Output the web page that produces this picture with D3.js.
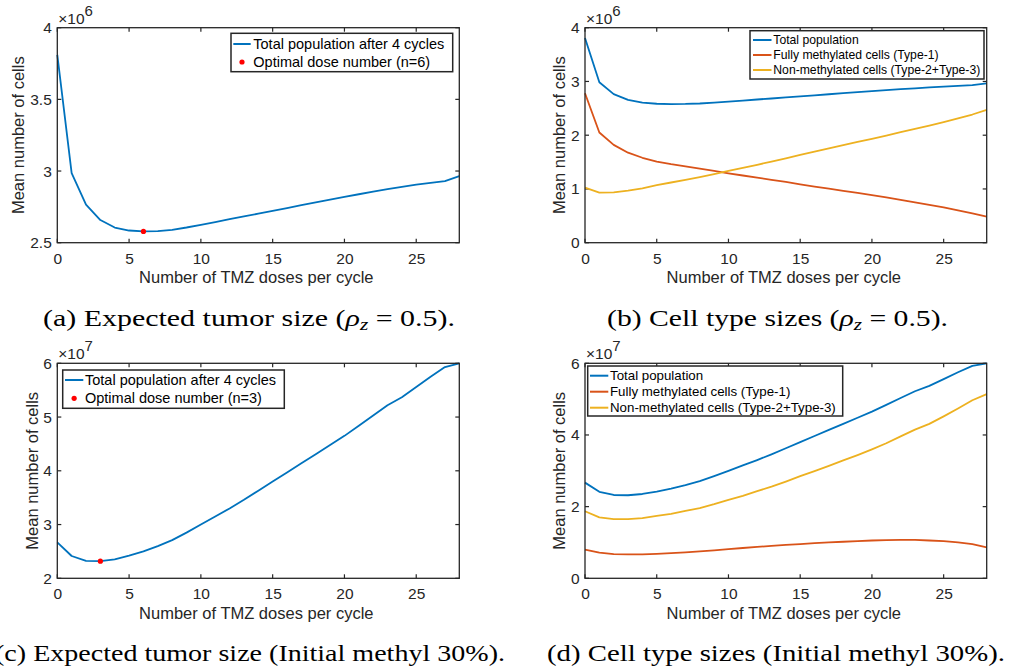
<!DOCTYPE html>
<html><head><meta charset="utf-8">
<script src="https://cdn.jsdelivr.net/npm/d3@7"></script>
<style>body{margin:0;background:#fff}svg{display:block}</style>
</head><body><svg id="c" width="1009" height="671"></svg>
<script>
// ---------- data ----------
const doses = [0,1,2,3,4,5,6,7,8,9,10,11,12,13,14,15,16,17,18,19,20,21,22,23,24,25,26,27,28];
const xTicks = [0,5,10,15,20,25];

// rho_z = 0.5  (x 10^6)
const totalRho   = [3.81,2.985,2.765,2.658,2.606,2.585,2.579,2.581,2.590,2.606,2.625,2.644,2.664,2.683,2.703,2.722,2.742,2.762,2.782,2.801,2.820,2.838,2.856,2.873,2.889,2.905,2.918,2.930,2.965];
const type1Rho   = [2.78,2.05,1.82,1.675,1.58,1.507,1.46,1.42,1.38,1.335,1.29,1.25,1.21,1.17,1.13,1.085,1.045,1.005,0.965,0.926,0.887,0.842,0.797,0.75,0.703,0.657,0.60,0.545,0.484];
const nonMethRho = [1.025,0.932,0.937,0.967,1.012,1.070,1.120,1.170,1.220,1.275,1.335,1.392,1.450,1.510,1.570,1.635,1.695,1.755,1.815,1.875,1.933,1.994,2.055,2.118,2.180,2.245,2.315,2.385,2.47];

// initial methyl 30%  (x 10^7)
const totalMeth   = [2.67,2.415,2.325,2.318,2.353,2.42,2.50,2.60,2.71,2.85,3.00,3.15,3.30,3.46,3.63,3.80,3.97,4.14,4.31,4.48,4.65,4.84,5.03,5.22,5.37,5.56,5.75,5.93,6.00];
const type1Meth   = [0.80,0.715,0.675,0.665,0.668,0.68,0.70,0.725,0.75,0.78,0.815,0.845,0.875,0.905,0.93,0.955,0.98,1.0,1.02,1.04,1.055,1.065,1.07,1.07,1.055,1.035,1.0,0.955,0.865];
const nonMethMeth = [1.87,1.70,1.65,1.65,1.68,1.74,1.80,1.88,1.96,2.07,2.19,2.30,2.43,2.56,2.70,2.85,2.99,3.14,3.29,3.44,3.60,3.77,3.96,4.15,4.31,4.52,4.74,4.97,5.14];

const optimalRho = 6;
const optimalMeth = 3;

const yTicksA = [2.5,3,3.5,4];
const yTicksB = [0,1,2,3,4];
const yTicksC = [2,3,4,5,6];
const yTicksD = [0,2,4,6];

const legendTotalOpt = "Total population after 4 cycles";
const legendOptA = "Optimal dose number (n=6)";
const legendOptC = "Optimal dose number (n=3)";
const legendTypes = ["Total population","Fully methylated cells (Type-1)","Non-methylated cells (Type-2+Type-3)"];

const xLabel = "Number of TMZ doses per cycle";
const yLabel = "Mean number of cells";

// ---------- drawing ----------
const BLUE = "#0072BD", ORANGE = "#D95319", YELLOW = "#EDB120", RED = "#FF0000", AX = "#262626";
const svg = d3.select("#c");
const SANS = "'Liberation Sans', Arial, Helvetica, sans-serif";
const SERIF = "'Liberation Serif', 'Times New Roman', serif";

function panel(o) {
  const g = svg.append("g");
  const x = d3.scaleLinear().domain([0,28]).range([o.left,o.right]);
  const y = d3.scaleLinear().domain(o.yDomain).range([o.bottom,o.top]);
  const T = 4;
  // ticks (inside, all four sides)
  const tickG = g.append("g").attr("stroke",AX).attr("stroke-width",1.2);
  xTicks.forEach(v => {
    tickG.append("line").attr("x1",x(v)).attr("x2",x(v)).attr("y1",o.bottom).attr("y2",o.bottom-T);
    tickG.append("line").attr("x1",x(v)).attr("x2",x(v)).attr("y1",o.top).attr("y2",o.top+T);
  });
  o.yTicks.forEach(v => {
    tickG.append("line").attr("y1",y(v)).attr("y2",y(v)).attr("x1",o.left).attr("x2",o.left+T);
    tickG.append("line").attr("y1",y(v)).attr("y2",y(v)).attr("x1",o.right).attr("x2",o.right-T);
  });
  // axes via d3 (labels only)
  const xa = g.append("g").attr("transform",`translate(0,${o.bottom})`)
    .call(d3.axisBottom(x).tickValues(xTicks).tickSize(0).tickPadding(0).tickFormat(d=>String(d)));
  xa.select(".domain").remove();
  xa.selectAll("text").attr("y",21).attr("dy",null).attr("font-family",SANS).attr("font-size",15.5).attr("fill",AX);
  const ya = g.append("g").attr("transform",`translate(${o.left},0)`)
    .call(d3.axisLeft(y).tickValues(o.yTicks).tickSize(0).tickPadding(5.5).tickFormat(d=>String(d)));
  ya.select(".domain").remove();
  ya.selectAll("text").attr("font-family",SANS).attr("font-size",15.5).attr("fill",AX);

  // lines
  const line = d3.line().x((d,i)=>x(doses[i])).y(d=>y(d));
  o.series.forEach(s => {
    g.append("path").datum(s.values).attr("d",line).attr("fill","none")
      .attr("stroke",s.color).attr("stroke-width",1.8).attr("stroke-linejoin","round");
  });
  if (o.opt !== undefined) {
    g.append("circle").attr("cx",x(doses[o.opt])).attr("cy",y(o.series[0].values[o.opt]))
      .attr("r",2.6).attr("fill",RED);
  }
  // box
  g.append("rect").attr("x",o.left).attr("y",o.top).attr("width",o.right-o.left).attr("height",o.bottom-o.top)
    .attr("fill","none").attr("stroke",AX).attr("stroke-width",1.3);

  // exponent
  const ex = g.append("text").attr("x",o.left+1).attr("y",o.top-4).attr("font-family",SANS)
    .attr("font-size",15.5).attr("fill",AX);
  ex.append("tspan").text("\u00d710");
  ex.append("tspan").attr("dy",-8).attr("font-size",15).text(o.exp);

  // axis labels
  g.append("text").attr("x",(o.left+o.right)/2-2).attr("y",o.bottom+40.5).attr("text-anchor","middle")
    .attr("font-family",SANS).attr("font-size",16.5).attr("fill",AX).text(xLabel);
  g.append("text").attr("transform",`translate(${o.ylabX},${(o.top+o.bottom)/2}) rotate(-90)`)
    .attr("text-anchor","middle").attr("dominant-baseline","central")
    .attr("font-family",SANS).attr("font-size",16.5).attr("fill",AX).text(yLabel);

  // legend
  const L = o.legend;
  g.append("rect").attr("x",L.x0).attr("y",L.y0).attr("width",L.x1-L.x0).attr("height",L.y1-L.y0)
    .attr("fill","#fff").attr("stroke",AX).attr("stroke-width",1.5);
  L.items.forEach((it,i) => {
    const ry = L.rows[i];
    if (it.type === "line") {
      g.append("line").attr("x1",L.lx0).attr("x2",L.lx1).attr("y1",ry).attr("y2",ry)
        .attr("stroke",it.color).attr("stroke-width",2);
    } else {
      g.append("circle").attr("cx",(L.lx0+L.lx1)/2).attr("cy",ry).attr("r",2.6).attr("fill",RED);
    }
    g.append("text").attr("x",L.tx).attr("y",ry).attr("dominant-baseline","central")
      .attr("font-family",SANS).attr("font-size",L.fs).attr("fill","#000").text(it.label);
  });

  // caption
  const cap = svg.append("text").attr("x",o.capX).attr("y",o.capY).attr("text-anchor","middle")
    .attr("font-family",SERIF).attr("font-size",22.5).attr("fill","#000")
    .attr("textLength",o.capW).attr("lengthAdjust","spacingAndGlyphs");
  o.caption(cap);
}

panel({
  left:57.3,right:459.3,top:27.7,bottom:242.7,yDomain:[2.5,4],yTicks:yTicksA,exp:"6",ylabX:18,
  series:[{values:totalRho,color:BLUE}], opt:optimalRho,
  legend:{x0:231,x1:452.7,y0:33.3,y1:71.7,lx0:233.3,lx1:250.7,tx:253.3,fs:14.5,rows:[44,62],
    items:[{type:"line",color:BLUE,label:legendTotalOpt},{type:"dot",label:legendOptA}]},
  capX:249,capY:326,capW:412,
  caption:t=>{t.append("tspan").text("(a) Expected tumor size (");
    t.append("tspan").attr("font-style","italic").text("\u03c1");
    t.append("tspan").attr("font-style","italic").attr("font-size",16).attr("dy",4).text("z");
    t.append("tspan").attr("dy",-4).text(" = 0.5).");}
});
panel({
  left:585,right:986.7,top:27.7,bottom:242.7,yDomain:[0,4],yTicks:yTicksB,exp:"6",ylabX:559,
  series:[{values:totalRho,color:BLUE},{values:type1Rho,color:ORANGE},{values:nonMethRho,color:YELLOW}],
  legend:{x0:750,x1:984,y0:30.7,y1:79,lx0:753,lx1:771.5,tx:773.3,fs:12.2,rows:[40,55,70],
    items:[{type:"line",color:BLUE,label:legendTypes[0]},{type:"line",color:ORANGE,label:legendTypes[1]},{type:"line",color:YELLOW,label:legendTypes[2]}]},
  capX:777.5,capY:326,capW:341,
  caption:t=>{t.append("tspan").text("(b) Cell type sizes (");
    t.append("tspan").attr("font-style","italic").text("\u03c1");
    t.append("tspan").attr("font-style","italic").attr("font-size",16).attr("dy",4).text("z");
    t.append("tspan").attr("dy",-4).text(" = 0.5).");}
});
panel({
  left:57.3,right:459.3,top:363.3,bottom:578.3,yDomain:[2,6],yTicks:yTicksC,exp:"7",ylabX:32,
  series:[{values:totalMeth,color:BLUE}], opt:optimalMeth,
  legend:{x0:62.7,x1:284.3,y0:370,y1:408.3,lx0:65,lx1:83.3,tx:85,fs:14.5,rows:[380,398.3],
    items:[{type:"line",color:BLUE,label:legendTotalOpt},{type:"dot",label:legendOptC}]},
  capX:250,capY:661,capW:510,
  caption:t=>{t.text("(c) Expected tumor size (Initial methyl 30%).");}
});
panel({
  left:585,right:986.7,top:363.3,bottom:578.3,yDomain:[0,6],yTicks:yTicksD,exp:"7",ylabX:559,
  series:[{values:totalMeth,color:BLUE},{values:type1Meth,color:ORANGE},{values:nonMethMeth,color:YELLOW}],
  legend:{x0:587.7,x1:842.7,y0:366,y1:416,lx0:590,lx1:608.3,tx:610,fs:13.3,rows:[375.7,391.7,407.7],
    items:[{type:"line",color:BLUE,label:legendTypes[0]},{type:"line",color:ORANGE,label:legendTypes[1]},{type:"line",color:YELLOW,label:legendTypes[2]}]},
  capX:776,capY:661,capW:458,
  caption:t=>{t.text("(d) Cell type sizes (Initial methyl 30%).");}
});
</script></body></html>
